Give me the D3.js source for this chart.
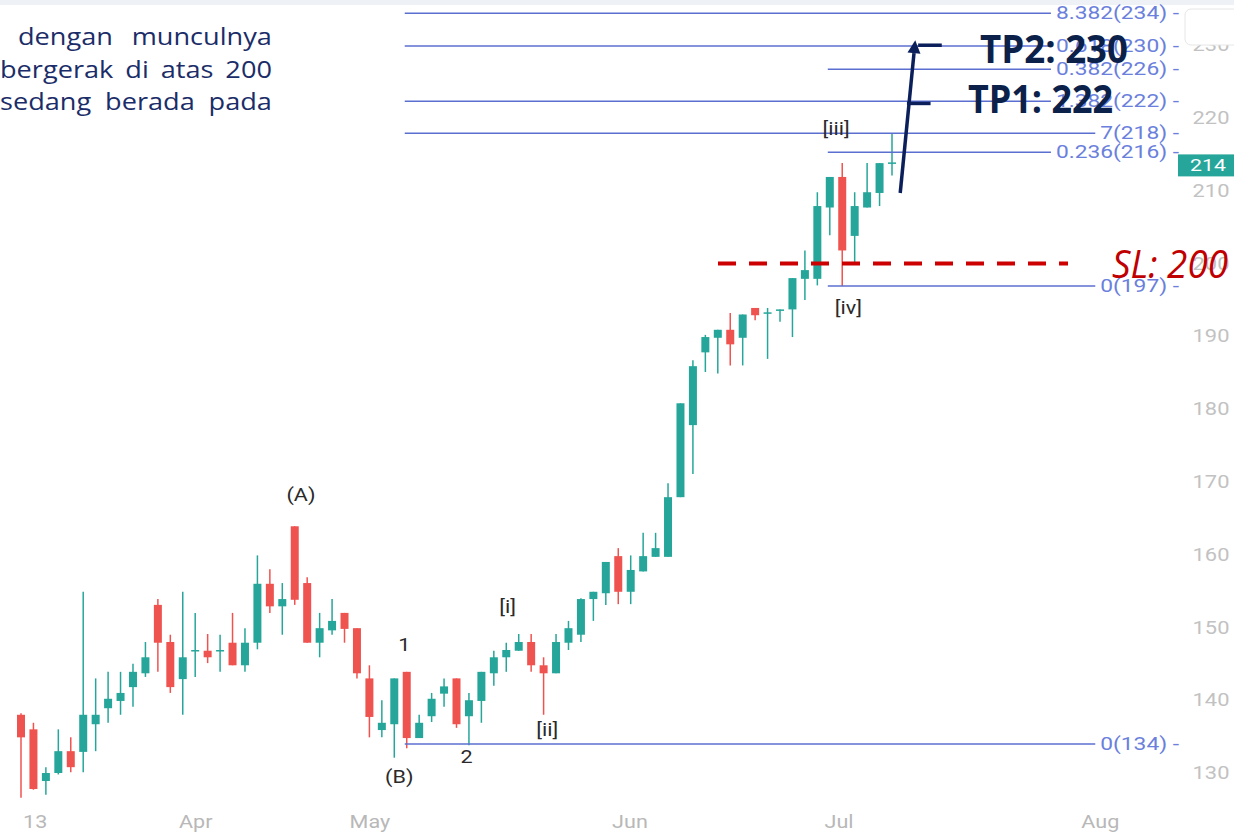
<!DOCTYPE html>
<html>
<head>
<meta charset="utf-8">
<script src="https://cdn.jsdelivr.net/npm/d3@7"></script>
<style>
body { margin: 0; background: #fff; }
svg { display: block; font-family: Roboto, sans-serif; }
</style>
</head>
<body>
<div id="chart"></div>
<script>
// daily candles, index 0 = first visible day
let opens  = [138.0,136.0,128.9,130.0,133.0,132.9,136.7,138.9,139.9,141.8,143.7,153.1,148.0,142.9,146.7,146.8,146.7,147.9,144.8,147.9,
              156.0,152.9,163.9,156.1,147.9,149.6,152.0,149.9,143.0,135.9,136.7,143.9,134.8,137.8,140.9,143.0,137.8,139.9,143.7,145.9,
              146.8,148.0,144.8,143.7,147.9,149.0,153.9,154.7,159.8,154.9,157.7,159.7,159.7,167.9,177.8,187.8,189.8,190.9,189.8,193.9,
              193.1,193.7,193.7,197.9,197.9,207.7,211.9,203.8,207.7,209.7,213.7]
let highs  = [138.2,136.9,130.8,136.0,134.9,154.9,143.0,143.9,143.9,145.0,148.0,153.9,149.0,154.9,152.0,149.1,149.0,152.0,149.9,159.9,
              158.0,156.1,163.9,156.9,152.0,153.9,152.0,149.9,144.8,140.0,143.0,143.9,138.0,141.0,143.0,143.0,141.0,143.9,146.8,147.9,
              149.1,149.1,145.9,149.1,150.9,154.0,154.9,159.0,160.9,159.9,163.0,163.0,169.8,180.8,186.7,190.2,190.9,193.2,193.0,193.9,
              193.9,193.7,198.0,201.8,209.8,211.9,213.8,209.8,213.8,213.8,217.9]
let lows   = [126.6,127.7,127.0,129.8,130.1,130.1,133.0,136.9,138.0,139.1,143.2,143.9,141.0,138.0,143.2,145.1,143.9,144.8,143.9,147.0,
              152.0,149.0,153.1,147.9,145.9,149.0,147.9,143.0,134.9,134.9,132.1,133.4,134.8,137.0,139.1,136.2,133.8,136.9,142.0,143.9,
              146.8,143.9,138.0,143.7,146.9,148.0,150.9,153.1,153.2,153.2,157.7,159.7,159.7,167.9,171.1,185.1,184.9,186.0,186.0,192.2,
              186.9,192.0,189.9,195.0,197.0,203.9,196.9,200.1,207.7,207.9,212.1]
let closes = [134.9,127.8,130.0,133.0,130.8,138.0,138.0,140.2,141.0,143.9,145.9,147.9,141.8,145.9,146.9,145.9,146.9,144.8,147.9,156.0,
              152.9,153.9,153.8,147.9,149.9,150.9,149.8,143.7,137.7,136.9,143.0,134.8,136.9,140.2,141.9,136.7,140.0,143.9,145.9,146.9,
              148.0,144.8,143.7,148.0,149.9,153.9,154.9,159.0,154.9,157.9,159.8,160.9,167.9,180.8,185.9,189.9,190.9,188.9,193.0,192.9,
              193.3,193.7,198.0,199.1,207.9,211.9,201.8,207.9,209.8,213.8,213.9]

// axis ticks
let priceTicks = [130, 140, 150, 160, 170, 180, 190, 200, 210, 220, 230]
let monthIdx = [1.1, 14.0, 28.0, 48.9, 65.7, 86.7]
let monthLabels = ['13', 'Apr', 'May', 'Jun', 'Jul', 'Aug']

// fibonacci levels drawn on the chart (price, label, anchor candle)
let fibValues = [234.4, 229.9, 226.7, 222.3, 217.9, 215.3, 196.9, 134.0]
let fibLabels = ['8.382(234)', '0.618(230)', '0.382(226)', '1.382(222)', '7(218)', '0.236(216)', '0(197)', '0(134)']
let fibStart  = [31, 31, 65, 31, 31, 65, 65, 31]

// elliott wave counts (label, candle index, price)
let waveLabels = ['(A)', '1', '(B)', '2', '[i]', '[ii]', '[iii]', '[iv]']
let waveIdx    = [22.5, 30.8, 30.4, 35.8, 39.1, 42.3, 65.5, 66.5]
let wavePrice  = [168.3, 147.6, 129.5, 132.2, 152.9, 135.9, 218.5, 193.9]

// trade plan
let tpValues = [230, 222]
let tpLabels = ['TP2: 230', 'TP1: 222']
let slValue = 200
let arrowFrom = [70.66, 209.7]
let arrowTo = [71.87, 230.7]

let noteLines = ['dengan munculnya', 'bergerak di atas 200', 'sedang berada pada']

const W = 1234, H = 832
let teal = '#26a69a', red = '#ef5350'

let svg = d3.select('#chart').append('svg').attr('width', W).attr('height', H)
svg.append('rect').attr('width', W).attr('height', H).attr('fill', '#fff')
svg.append('rect').attr('width', W).attr('height', 5).attr('fill', '#eef1f5')

let x = d3.scaleLinear().domain([0, 70]).range([21, 892])
let y = d3.scaleLinear().domain([130, 220]).range([773, 118])

// price axis on the right
let yAxis = svg.append('g')
    .call(d3.axisRight(y).tickValues(priceTicks).tickSize(0).tickPadding(0))
yAxis.select('.domain').remove()
yAxis.selectAll('text')
    .attr('x', 0)
    .attr('text-anchor', 'middle')
    .attr('transform', 'translate(1211,0) scale(1.25,1)')
    .attr('fill', '#c2c2c2')
    .style('font-size', '17.5px')
    .style('font-family', 'Roboto')

// date axis
let xAxis = svg.append('g').attr('transform', 'translate(0,815)')
    .call(d3.axisBottom(x).tickValues(monthIdx).tickFormat((d, i) => monthLabels[i]).tickSize(0).tickPadding(0))
xAxis.select('.domain').remove()
xAxis.selectAll('text')
    .attr('transform', 'scale(1.2,1)')
    .attr('fill', '#b8b8b8')
    .style('font-size', '18px')
    .style('font-family', 'Roboto')

// top-left note, justified and cut at the left edge
// the screenshot is stretched sideways, so size the glyphs off the first word
let probe = svg.append('text').style('font-family', 'Open Sans').style('font-size', '23px').text('dengan')
let sx = 95 / probe.node().getComputedTextLength()
probe.remove()
noteLines.forEach((line, i) => {
    let x0 = i == 0 ? 18 : 0
    let target = 272 - x0
    let t = svg.append('text')
        .attr('fill', '#1b2d68')
        .style('font-family', 'Open Sans')
        .style('font-size', '23px')
        .text(line)
    let natural = t.node().getComputedTextLength()
    let spaces = line.split(' ').length - 1
    let ws = (target / sx - natural) / spaces
    t.attr('transform', `translate(${x0},${45 + i * 32.5}) scale(${sx},1)`)
        .attr('word-spacing', ws)
})

// candles
let candles = svg.append('g')
d3.range(opens.length).forEach(i => {
    let up = closes[i] >= opens[i]
    let col = up ? teal : red
    candles.append('line')
        .attr('x1', x(i)).attr('x2', x(i))
        .attr('y1', y(highs[i])).attr('y2', y(lows[i]))
        .attr('stroke', col).attr('stroke-width', 1.5)
    let top = y(Math.max(opens[i], closes[i]))
    let bot = y(Math.min(opens[i], closes[i]))
    candles.append('rect')
        .attr('x', x(i) - 4).attr('width', 8)
        .attr('y', top).attr('height', Math.max(1.5, bot - top))
        .attr('fill', col)
})

// fibonacci lines with their labels
let fibG = svg.append('g')
fibValues.forEach((v, i) => {
    let t = fibG.append('text')
        .attr('transform', `translate(1179,${y(v)}) scale(1.3,1)`)
        .attr('text-anchor', 'end')
        .attr('dy', '0.35em')
        .attr('fill', '#6a80dc')
        .style('font-size', '17.5px')
        .text(fibLabels[i] + ' -')
    let tw = t.node().getComputedTextLength() * 1.3
    fibG.append('line')
        .attr('x1', x(fibStart[i]) - 2).attr('x2', 1179 - tw - 5)
        .attr('y1', y(v)).attr('y2', y(v))
        .attr('stroke', '#5b6fd0').attr('stroke-width', 1.5)
})

// wave labels
waveLabels.forEach((lab, i) => {
    svg.append('text')
        .attr('transform', `translate(${x(waveIdx[i])},${y(wavePrice[i])}) scale(1.2,1)`)
        .attr('text-anchor', 'middle')
        .attr('dy', '0.35em')
        .attr('fill', '#2a2a2a')
        .style('font-size', '18px')
        .text(lab)
})

// top right box and last price tag
svg.append('rect').attr('x', 1185).attr('y', 9).attr('width', 60).attr('height', 36).attr('rx', 6)
    .attr('fill', '#fff').attr('stroke', '#e6e6e6')
let last = closes[closes.length - 1]
svg.append('rect').attr('x', 1178).attr('y', y(last) - 8).attr('width', 56).attr('height', 22).attr('fill', teal)
svg.append('text')
    .attr('transform', `translate(1208,${y(last) + 3}) scale(1.25,1)`)
    .attr('text-anchor', 'middle').attr('dy', '0.35em')
    .attr('fill', '#fff').style('font-size', '17px')
    .text(Math.round(last))

// stop loss
svg.append('line')
    .attr('x1', 718).attr('x2', 1068)
    .attr('y1', y(slValue)).attr('y2', y(slValue))
    .attr('stroke', '#cc0000').attr('stroke-width', 4)
    .attr('stroke-dasharray', '18,13')
svg.append('text')
    .attr('x', 1112).attr('y', y(slValue) + 14)
    .attr('fill', '#c00000')
    .style('font-family', 'Open Sans').style('font-style', 'italic')
    .style('font-size', '38px')
    .attr('textLength', 116).attr('lengthAdjust', 'spacingAndGlyphs')
    .text('SL: ' + slValue)

// target arrow
let navy = '#0b1f5a'
let ax1 = x(arrowFrom[0]), ay1 = y(arrowFrom[1])
let ax2 = x(arrowTo[0]), ay2 = y(arrowTo[1])
let ang = Math.atan2(ay2 - ay1, ax2 - ax1)
let hl = 13, hw = 6.5
let bx = ax2 - hl * Math.cos(ang), by = ay2 - hl * Math.sin(ang)
svg.append('line').attr('x1', ax1).attr('y1', ay1).attr('x2', bx).attr('y2', by)
    .attr('stroke', navy).attr('stroke-width', 3.5)
svg.append('path')
    .attr('d', `M${ax2},${ay2}L${bx - hw * Math.sin(ang)},${by + hw * Math.cos(ang)}L${bx + hw * Math.sin(ang)},${by - hw * Math.cos(ang)}Z`)
    .attr('fill', navy)

let tickFrom = [72.1, 71.2], tickTo = [74.0, 73.1]
let tpX = [980, 968], tpDy = [18, 10], tpW = [148, 145]
tpValues.forEach((v, i) => {
    svg.append('line')
        .attr('x1', x(tickFrom[i])).attr('x2', x(tickTo[i]))
        .attr('y1', y(v)).attr('y2', y(v))
        .attr('stroke', navy).attr('stroke-width', 3.5)
    svg.append('text')
        .attr('x', tpX[i]).attr('y', y(v) + tpDy[i])
        .attr('fill', '#0b2149')
        .style('font-family', 'Open Sans').style('font-weight', 'bold')
        .style('font-size', '39px')
        .attr('textLength', tpW[i]).attr('lengthAdjust', 'spacingAndGlyphs')
        .text(tpLabels[i])
})
</script>
</body>
</html>
